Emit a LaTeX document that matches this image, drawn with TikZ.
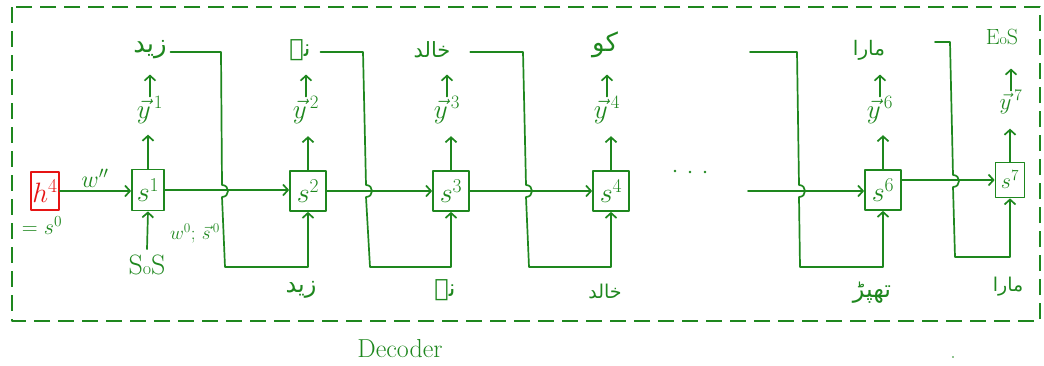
\RequirePackage{fix-cm}
\documentclass[tikz,border=0pt]{standalone}
\usepackage{fontspec}
\usetikzlibrary{arrows.meta}
\newfontfamily\urdufont[Script=Arabic]{DejaVu Sans}
\TeXXeTstate=1
\newcommand{\ur}[1]{{\urdufont\beginR #1\endR}}
\newcommand{\fs}[1]{\fontsize{#1}{#1}\selectfont}
\definecolor{ink}{RGB}{30,135,30}
\definecolor{redink}{RGB}{230,20,20}
\begin{document}
\begin{tikzpicture}[x=1pt,y=-1pt, line width=1.7pt, draw=ink, line cap=round, line join=round,
 arr/.style={-{Straight Barb[length=5pt,width=11pt]}},
 state/.style={draw=ink, minimum width=36pt, minimum height=40pt, inner sep=0pt, font=\fs{28}, text=ink},
 word/.style={font=\fs{24}, text=ink, inner sep=1pt},
 ylab/.style={font=\fs{27}, text=ink, inner sep=1pt},
 lab/.style={font=\fs{22}, text=ink, inner sep=1pt},
 border/.style={draw=ink, dash pattern=on 16pt off 8pt, line cap=butt}]
\useasboundingbox (0,0) rectangle (1044,365);
\draw[border] (12,7) rectangle (1040,321);

% encoder hidden state
\node[draw=redink, text=redink, line width=1.4pt, minimum width=28pt, minimum height=38pt, inner sep=0pt, font=\fs{28}] (h4) at (45,191) {$h^{4}$};
\node[lab] (s0) at (42,226) {$=s^{0}$};
\node[lab, font=\fs{24}] (wpp) at (95,178) {$w''$};

% states
\node[state, minimum width=32pt, minimum height=41pt] (s1) at (148,190) {$s^{1}$};
\node[state] (s2) at (308,191) {$s^{2}$};
\node[state] (s3) at (451,191) {$s^{3}$};
\node[state] (s4) at (611,191) {$s^{4}$};
\node[state] (s6) at (883,190) {$s^{6}$};
\node[state, minimum width=29pt, minimum height=35pt, font=\fs{22}] (s7) at (1010,180) {$s^{7}$};

% output vectors
\node[ylab] (y1) at (150,110) {$\vec{y}^{\,1}$};
\node[ylab] (y2) at (306,110) {$\vec{y}^{\,2}$};
\node[ylab] (y3) at (447,110) {$\vec{y}^{\,3}$};
\node[ylab] (y4) at (607,110) {$\vec{y}^{\,4}$};
\node[ylab] (y6) at (880,110) {$\vec{y}^{\,6}$};
\node[ylab, font=\fs{23}] (y7) at (1011,102) {$\vec{y}^{\,7}$};

% output words
\node[word, font=\fs{26}] (o1) at (150,50) {\ur{زید}};
\node[word] (o2) at (300,50) {\ur{نے}};
\node[word, font=\fs{21}] (o3) at (432,50) {\ur{خالد}};
\node[word, font=\fs{26}] (o4) at (605,45) {\ur{کو}};
\node[word, font=\fs{20}] (o6) at (869,50) {\ur{مارا}};
\node[lab] (o7) at (1002,37) {E{\fs{16}o}S};

% input words
\node[lab, font=\fs{28}] (i1) at (147,265) {S{\fs{18}o}S};
\node[lab, font=\fs{19}] (win) at (195,234) {$w^{0};\,\vec{s}^{\,0}$};
\node[word, font=\fs{24}] (i2) at (301,290) {\ur{زید}};
\node[word] (i3) at (445,290) {\ur{نے}};
\node[word, font=\fs{19}] (i4) at (605,291) {\ur{خالد}};
\node[word, font=\fs{24}] (i6) at (872,293) {\ur{تھپڑ}};
\node[word, font=\fs{19}] (i7) at (1008,287) {\ur{مارا}};

% dots
\fill[ink] (675,171) circle (1.3pt) (690,172) circle (1.3pt) (705,172) circle (1.3pt);
\fill[ink] (953,357) circle (0.9pt);

\node[font=\fs{26}, text=ink] (dec) at (400,349) {Decoder};

% vertical arrows (state -> y -> word)
\foreach \s/\y/\o in {s1/y1/o1, s2/y2/o2, s3/y3/o3, s4/y4/o4, s6/y6/o6} {
  \draw[arr] (\s.north) -- ++(0,-34);
  \draw[arr] (\y.north) ++(0,2) -- ++(0,-22);
}
\draw[arr] (s7.north) -- ++(0,-33);
\draw[arr] (y7.north) ++(0,2) -- ++(0,-22);

% input arrows
\draw[arr] (i1.north) ++(0,-4) -- (s1.south);
\draw[arr] (h4.east) -- (h4.east -| s1.west);

% horizontal state arrows
\draw[arr] (s1.east) -- (s1.east -| s2.west);
\draw[arr] (s2.east) -- (s2.east -| s3.west);
\draw[arr] (s3.east) -- (s3.east -| s4.west);
\coordinate (f6) at (748,191);
\draw[arr] (f6) -- (f6 -| s6.west);
\draw[arr] (s6.east |- s7.west) -- (s7.west);

% feedback paths with hop
\draw[arr] (o1.east) ++(2,2) -- (221,52) -- (222,185) .. controls (230,185) and (230,197) .. (222,197) -- (225,267) -| (s2.south);
\draw[arr] (o2.east) ++(8,2) -- (363,52) -- (366,185) .. controls (374,185) and (374,197) .. (366,197) -- (370,267) -| (s3.south);
\draw[arr] (o3.east) ++(18,2) -- (523,52) -- (526,185) .. controls (534,185) and (534,197) .. (526,197) -- (529,267) -| (s4.south);
\coordinate (f6t) at (750,52);
\draw[arr] (f6t) -- (797,52) -- (799,185) .. controls (807,185) and (807,197) .. (799,197) -- (800,267) -| (s6.south);
\draw[arr] (o6.east) ++(48,-8) -- (950,42) -- (953,175) .. controls (961,175) and (961,187) .. (953,187) -- (955,257) -| (s7.south);
\end{tikzpicture}
\end{document}
